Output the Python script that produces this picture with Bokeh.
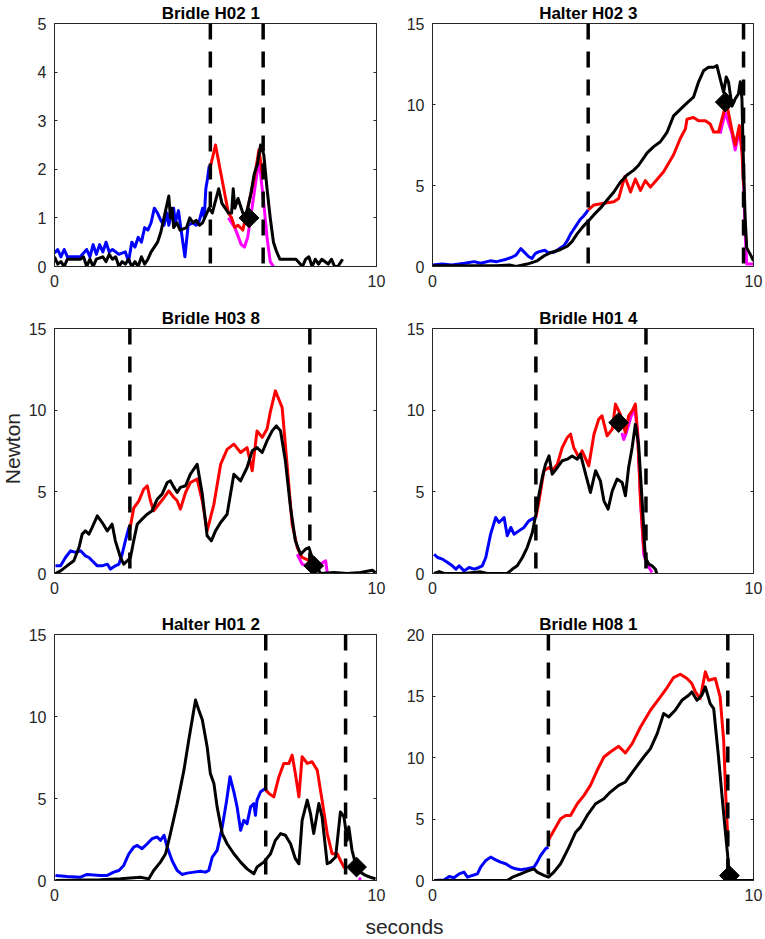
import math
from bokeh.plotting import figure
from bokeh.models import Range1d, FixedTicker, LinearAxis, Label
from bokeh.layouts import column, row
from bokeh.embed import file_html
from bokeh.resources import INLINE

# ---------------- data ----------------
titles = ["Bridle  H02  1", "Halter  H02  3", "Bridle  H03  8",
          "Bridle  H01  4", "Halter  H01  2", "Bridle  H08  1"]
y_label = "Newton"
x_label = "seconds"
y_max = [5, 15, 15, 15, 15, 20]
y_ticks = [[0, 1, 2, 3, 4, 5], [0, 5, 10, 15], [0, 5, 10, 15],
           [0, 5, 10, 15], [0, 5, 10, 15], [0, 5, 10, 15, 20]]
x_ticks = [0, 10]
phase_start = [4.84, 4.85, 2.34, 3.22, 6.56, 3.61]
phase_end = [6.48, 9.69, 7.93, 6.65, 9.04, 9.20]
marker_t = [6.04, 9.12, 8.05, 5.80, 9.38, 9.25]
marker_f = [1.00, 10.15, 0.47, 9.24, 0.82, 0.40]

# panel 1  Bridle H02 1
p1_blue = [(0.0,0.28),(0.1,0.35),(0.2,0.2),(0.3,0.35),(0.4,0.2),(0.6,0.2),(0.8,0.2),(1.0,0.35),
           (1.1,0.2),(1.2,0.45),(1.3,0.25),(1.4,0.45),(1.5,0.3),(1.6,0.5),(1.7,0.3),(1.8,0.35),
           (2.0,0.25),(2.2,0.3),(2.3,0.1),(2.4,0.5),(2.5,0.4),(2.6,0.6),(2.7,0.5),(2.8,0.8),
           (2.9,0.75),(3.0,0.9),(3.1,1.2),(3.2,1.1),(3.3,0.95),(3.4,0.85),(3.5,1.1),(3.55,0.85),
           (3.6,1.0),(3.7,1.2),(3.75,0.9),(3.85,1.15),(3.9,0.9),(4.05,0.2),(4.15,0.85),(4.3,0.9),
           (4.4,0.85),(4.5,0.95),(4.6,1.2),(4.65,1.0),(4.7,1.6),(4.75,1.8),(4.8,2.05),(4.84,2.05)]
p1_red = [(4.84,2.05),(5.0,2.5),(5.2,1.8),(5.4,1.1),(5.5,1.0),(5.6,0.8),(5.7,0.85),(5.85,0.75),
          (6.0,1.2),(6.2,1.8),(6.35,2.4),(6.48,1.8)]
p1_magenta = [(5.4,1.0),(5.6,0.8),(5.8,0.45),(5.9,0.4),(6.0,0.6),(6.2,1.5),(6.35,2.2),(6.5,1.3),
              (6.6,0.6),(6.7,0.1),(6.8,0.0)]
p1_black = [(0.0,0.2),(0.1,0.05),(0.2,0.1),(0.3,0.0),(0.4,0.15),(0.6,0.15),(0.8,0.15),(0.9,0.2),
            (1.0,0.0),(1.1,0.15),(1.2,0.0),(1.3,0.15),(1.5,0.2),(1.6,0.1),(1.7,0.25),(1.8,0.15),
            (1.9,0.2),(2.0,0.0),(2.1,0.1),(2.2,0.05),(2.3,0.15),(2.4,0.0),(2.5,0.1),(2.6,0.0),
            (2.7,0.2),(2.8,0.05),(2.9,0.15),(3.0,0.3),(3.1,0.4),(3.2,0.5),(3.3,0.7),(3.4,1.0),
            (3.5,1.3),(3.55,1.45),(3.6,1.0),(3.65,1.2),(3.7,0.8),(3.8,0.9),(3.9,0.75),(4.1,0.8),
            (4.2,1.0),(4.3,0.9),(4.4,0.95),(4.5,0.85),(4.6,0.9),(4.7,1.05),(4.8,1.2),(4.9,1.1),
            (5.0,1.35),(5.1,1.6),(5.2,1.3),(5.3,1.2),(5.4,1.1),(5.5,1.1),(5.55,1.6),(5.6,1.2),
            (5.7,1.4),(5.8,1.2),(5.9,1.0),(6.0,1.2),(6.1,1.5),(6.2,1.9),(6.3,2.1),(6.4,2.5),
            (6.5,2.3),(6.6,1.6),(6.7,1.0),(6.8,0.5),(6.9,0.3),(7.0,0.15),(7.1,0.15),(7.5,0.15),
            (7.7,0.0),(7.8,0.15),(7.9,0.2),(8.0,0.0),(8.1,0.15),(8.2,0.05),(8.3,0.15),(8.5,0.05),
            (8.6,0.15),(8.7,0.0),(8.8,0.0),(8.9,0.1),(8.95,0.15)]

# panel 2  Halter H02 3
p2_blue = [(0.0,0.1),(0.3,0.15),(0.6,0.1),(1.0,0.2),(1.3,0.3),(1.5,0.2),(1.8,0.35),(2.0,0.3),
           (2.3,0.45),(2.5,0.6),(2.6,0.7),(2.75,1.1),(2.85,0.9),(3.0,0.6),(3.1,0.5),(3.2,0.8),
           (3.3,0.9),(3.5,1.0),(3.6,0.85),(3.8,0.9),(3.95,1.1),(4.1,1.3),(4.2,1.6),(4.3,2.0),
           (4.4,2.3),(4.5,2.6),(4.6,2.9),(4.7,3.1),(4.8,3.35),(4.85,3.5)]
p2_red = [(4.85,3.5),(5.03,3.8),(5.34,3.9),(5.65,4.0),(5.8,4.2),(5.91,5.0),(5.99,5.55),(6.17,4.6),
          (6.32,5.4),(6.48,4.7),(6.63,5.3),(6.79,4.9),(7.2,5.85),(7.51,6.9),(7.72,7.9),(7.88,8.5),
          (7.93,9.1),(8.13,9.2),(8.29,9.0),(8.5,9.0),(8.65,8.8),(8.76,8.3),(8.91,8.3),(9.07,9.5),
          (9.17,10.0),(9.33,8.4),(9.43,7.5),(9.56,8.7),(9.64,7.1),(9.69,5.0)]
p2_magenta = [(8.96,8.2),(9.12,9.5),(9.33,8.2),(9.43,7.2),(9.56,8.4),(9.67,6.7),(9.74,2.0),
              (9.79,0.15),(10.0,0.15)]
p2_black = [(0.0,0.05),(1.0,0.05),(2.0,0.05),(2.4,0.1),(2.6,0.0),(2.95,0.15),(3.26,0.35),
            (3.47,0.65),(3.68,0.85),(3.99,1.05),(4.2,1.25),(4.35,1.55),(4.5,2.0),(4.66,2.4),
            (4.85,2.8),(5.03,3.2),(5.23,3.6),(5.44,4.1),(5.65,4.6),(5.85,5.2),(6.06,5.65),
            (6.27,5.95),(6.42,6.25),(6.58,6.7),(6.68,7.0),(6.89,7.4),(7.1,7.7),(7.31,8.3),
            (7.51,9.3),(7.72,9.7),(7.93,10.1),(8.13,10.45),(8.29,11.4),(8.45,12.1),(8.6,12.3),
            (8.76,12.3),(8.86,12.4),(8.96,11.6),(9.07,10.75),(9.15,11.7),(9.22,11.4),(9.33,9.9),
            (9.43,10.35),(9.53,10.65),(9.59,11.4),(9.64,10.35),(9.69,6.1),(9.74,3.0),(9.79,1.15),
            (9.9,0.75),(10.0,0.35)]

# panel 3  Bridle H03 8
p3_blue = [(0.03,0.47),(0.19,0.47),(0.34,0.98),(0.5,1.39),(0.65,1.29),(0.81,1.39),(0.96,1.08),
           (1.07,0.98),(1.17,0.78),(1.33,0.47),(1.48,0.47),(1.64,0.57),(1.74,0.27),(1.89,0.47),
           (2.0,0.57),(2.1,1.18),(2.2,2.0),(2.31,2.8),(2.34,2.7)]
p3_red = [(2.34,2.7),(2.46,4.0),(2.62,4.45),(2.77,5.16),(2.88,5.37),(2.98,4.45),(3.08,3.84),
          (3.24,4.24),(3.4,4.65),(3.55,5.06),(3.71,4.65),(3.81,4.45),(3.91,3.94),(4.07,4.96),
          (4.22,5.57),(4.43,5.78),(4.59,4.45),(4.74,2.61),(4.95,4.24),(5.16,6.69),(5.36,7.6),
          (5.57,7.92),(5.78,7.41),(5.98,7.71),(6.14,6.29),(6.29,8.73),(6.45,8.33),(6.6,8.84),
          (6.71,9.96),(6.86,11.18),(7.07,10.16),(7.23,6.49),(7.38,3.02),(7.54,1.59),(7.69,0.98),
          (7.93,0.78)]
p3_magenta = [(7.54,1.18),(7.69,0.57),(7.85,0.45),(8.1,0.5),(8.26,0.57),(8.42,0.78),(8.47,0.05)]
p3_black = [(0.03,0.0),(0.19,0.16),(0.39,0.47),(0.6,0.78),(0.76,1.59),(0.86,2.41),(0.96,2.61),
            (1.07,2.41),(1.17,2.82),(1.33,3.53),(1.48,3.12),(1.64,2.61),(1.79,3.02),(1.89,2.0),
            (2.05,0.98),(2.15,0.57),(2.26,0.78),(2.36,0.98),(2.46,2.0),(2.57,3.02),(2.72,3.33),
            (2.88,3.63),(3.03,3.84),(3.19,4.55),(3.34,4.86),(3.5,5.57),(3.6,5.67),(3.71,5.27),
            (3.81,4.96),(3.91,5.27),(4.07,5.37),(4.22,6.08),(4.43,6.69),(4.59,4.86),(4.74,2.31),
            (4.87,2.0),(5.0,2.61),(5.16,3.12),(5.36,3.63),(5.57,6.08),(5.78,5.67),(5.98,6.49),
            (6.14,7.51),(6.29,7.71),(6.45,7.41),(6.6,8.12),(6.76,8.73),(6.89,9.04),(7.02,8.73),
            (7.17,6.9),(7.33,4.04),(7.48,2.0),(7.64,1.18),(7.8,1.49),(7.9,1.59),(8.0,0.98),
            (8.16,0.37),(8.26,0.0),(8.67,0.06),(9.09,0.0),(9.5,0.06),(9.87,0.2),(9.97,0.05)]

# panel 4  Bridle H01 4
p4_blue = [(0.05,1.18),(0.16,0.98),(0.31,0.88),(0.47,0.67),(0.62,0.47),(0.73,0.27),(0.83,0.47),
           (0.98,0.16),(1.14,0.37),(1.3,0.27),(1.45,0.37),(1.55,0.47),(1.66,0.98),(1.81,2.41),
           (1.97,3.43),(2.07,3.12),(2.23,3.43),(2.33,2.31),(2.44,2.82),(2.54,2.41),(2.69,2.61),
           (2.85,2.82),(3.0,3.22),(3.16,3.39),(3.22,3.43)]
p4_red = [(3.22,3.43),(3.32,4.45),(3.47,6.29),(3.63,6.49),(3.73,6.29),(3.89,6.69),(4.04,7.71),
          (4.2,8.33),(4.3,8.53),(4.4,7.71),(4.56,7.1),(4.66,7.51),(4.87,6.59),(5.03,8.53),
          (5.18,9.45),(5.28,9.65),(5.44,8.43),(5.6,8.84),(5.7,10.37),(5.85,9.76),(6.01,8.63),
          (6.11,9.65),(6.22,9.96),(6.32,10.37),(6.39,8.53),(6.48,4.45),(6.58,1.59),(6.65,0.98)]
p4_magenta = [(5.9,8.6),(5.96,8.2),(6.05,8.7),(6.2,9.7),(6.3,10.0),(6.39,8.7),(6.48,4.6),
              (6.58,1.18),(6.68,0.57),(6.84,0.06)]
p4_black = [(0.05,0.0),(0.21,0.12),(0.36,0.0),(0.98,0.0),(1.5,0.1),(1.71,0.0),(2.33,0.0),
            (2.49,0.27),(2.64,0.47),(2.8,0.98),(2.95,1.59),(3.11,2.51),(3.22,3.63),(3.32,4.86),
            (3.42,5.88),(3.52,6.69),(3.63,7.2),(3.73,6.08),(3.89,6.49),(4.04,6.9),(4.2,7.0),
            (4.35,7.2),(4.51,7.0),(4.61,7.31),(4.77,6.08),(4.92,4.96),(5.08,6.29),(5.23,5.67),
            (5.34,4.45),(5.47,3.94),(5.6,5.06),(5.75,5.78),(5.91,5.57),(6.01,4.76),(6.11,6.49),
            (6.22,7.71),(6.32,9.14),(6.42,7.92),(6.53,4.45),(6.63,0.98),(6.74,0.57),(6.84,0.47),
            (6.94,0.27),(6.99,0.0)]

# panel 5  Halter H01 2
p5_blue = [(0.03,0.31),(0.39,0.24),(0.81,0.2),(1.01,0.37),(1.43,0.31),(1.64,0.31),(1.84,0.51),
           (2.0,0.61),(2.15,0.92),(2.31,1.63),(2.46,2.04),(2.57,2.14),(2.72,1.94),(2.88,2.24),
           (3.03,2.55),(3.19,2.65),(3.29,2.45),(3.4,2.76),(3.5,2.04),(3.65,1.22),(3.81,0.61),
           (3.96,0.37),(4.12,0.45),(4.33,0.51),(4.53,0.57),(4.69,0.51),(4.79,0.61),(4.9,1.43),
           (5.05,1.84),(5.21,3.27),(5.34,4.8),(5.45,6.33),(5.57,5.41),(5.67,4.49),(5.78,3.06),
           (5.88,3.67),(5.98,3.47),(6.09,4.49),(6.19,4.69),(6.24,3.98),(6.29,4.9),(6.4,5.41),
           (6.55,5.61)]
p5_red = [(6.56,5.51),(6.66,5.31),(6.81,5.1),(6.97,6.33),(7.12,7.14),(7.28,7.14),(7.38,7.65),
          (7.48,6.53),(7.59,5.1),(7.69,7.55),(7.85,7.14),(8.0,7.24),(8.16,6.73),(8.31,4.9),
          (8.47,2.86),(8.62,1.63),(8.78,1.63),(8.88,1.22),(8.99,0.82),(9.04,0.71)]
p5_magenta = [(9.45,0.15),(9.52,0.05)]
p5_black = [(0.03,0.0),(1.43,0.04),(2.05,0.1),(2.67,0.2),(2.93,0.1),(3.08,0.61),(3.29,1.12),
            (3.45,1.63),(3.6,2.86),(3.81,4.69),(4.02,6.73),(4.17,8.57),(4.31,10.2),(4.38,11.0),
            (4.48,10.4),(4.59,9.8),(4.74,8.16),(4.84,6.53),(4.95,5.92),(5.05,4.49),(5.21,2.86),
            (5.36,2.24),(5.57,1.63),(5.78,1.12),(5.98,0.71),(6.19,0.41),(6.29,0.82),(6.5,1.12),
            (6.71,1.63),(6.86,2.45),(7.02,2.86),(7.17,2.76),(7.33,2.24),(7.48,1.33),(7.59,1.02),
            (7.69,3.67),(7.85,4.9),(7.95,4.08),(8.05,2.86),(8.21,4.69),(8.31,3.88),(8.47,1.02),
            (8.57,1.12),(8.73,1.43),(8.88,4.18),(8.99,3.88),(9.09,2.45),(9.14,3.27),(9.24,1.84),
            (9.35,1.02),(9.5,0.51),(9.66,0.31),(9.81,0.2),(9.97,0.1)]

# panel 6  Bridle H08 1
p6_blue = [(0.05,0.0),(0.36,0.05),(0.52,0.33),(0.67,0.22),(0.83,0.54),(0.98,0.68),(1.09,0.27),
           (1.24,0.41),(1.4,0.54),(1.5,1.09),(1.66,1.63),(1.81,1.9),(1.97,1.68),(2.12,1.49),
           (2.28,1.36),(2.44,1.09),(2.59,0.95),(2.75,0.87),(2.95,0.95),(3.16,1.09),(3.26,1.49),
           (3.37,2.04),(3.52,2.58),(3.61,2.71)]
p6_red = [(3.61,3.26),(3.78,4.07),(3.99,5.02),(4.15,5.29),(4.3,5.29),(4.51,6.24),(4.72,6.92),
          (4.92,7.73),(5.13,8.96),(5.34,10.04),(5.54,10.45),(5.8,10.91),(6.01,10.37),(6.22,11.13),
          (6.48,12.48),(6.79,13.84),(7.1,14.93),(7.31,15.69),(7.51,16.5),(7.72,16.77),(7.93,16.42),
          (8.08,16.01),(8.19,15.33),(8.34,14.79),(8.5,16.96),(8.6,16.28),(8.81,16.42),(8.96,14.93),
          (9.07,11.4),(9.15,5.97),(9.2,3.53)]
p6_magenta = []
p6_black = [(0.05,0.0),(2.33,0.0),(2.49,0.27),(2.75,0.54),(2.95,0.76),(3.16,0.95),(3.26,0.68),
            (3.47,0.41),(3.61,0.27),(3.78,0.68),(3.99,1.36),(4.25,2.71),(4.46,3.93),(4.61,4.34),
            (4.82,5.29),(5.08,6.24),(5.34,6.65),(5.54,7.19),(5.8,7.73),(6.01,8.01),(6.27,8.96),
            (6.58,10.04),(6.79,10.72),(7.0,11.94),(7.2,13.57),(7.36,13.3),(7.56,13.84),(7.77,14.65),
            (7.98,15.06),(8.08,15.33),(8.24,14.65),(8.39,15.06),(8.5,15.74),(8.65,14.38),(8.76,13.98),
            (8.91,10.04),(9.07,5.43),(9.2,1.9),(9.25,0.14),(9.38,0.0),(10.0,0.0)]

blue_series = [p1_blue, p2_blue, p3_blue, p4_blue, p5_blue, p6_blue]
red_series = [p1_red, p2_red, p3_red, p4_red, p5_red, p6_red]
magenta_series = [p1_magenta, p2_magenta, p3_magenta, p4_magenta, p5_magenta, p6_magenta]
black_series = [p1_black, p2_black, p3_black, p4_black, p5_black, p6_black]

# ---------------- styling ----------------
AX = "#262626"
FONT = "Liberation Sans"


def split(pairs):
    return [a for a, _ in pairs], [b for _, b in pairs]


def make_panel(i, width, height, bl, br, bt, bb):
    p = figure(width=width, height=height, x_range=Range1d(0, 10), y_range=Range1d(0, y_max[i]),
               output_backend="svg", toolbar_location=None,
               min_border_left=bl, min_border_right=br, min_border_top=bt, min_border_bottom=bb,
               background_fill_color="white", border_fill_color="white")
    p.grid.visible = False
    p.outline_line_color = AX
    p.outline_line_width = 1
    p.title.text = titles[i]
    p.title.align = "center"
    p.title.text_font = FONT
    p.title.text_font_style = "bold"
    p.title.text_font_size = "17px"
    p.title.text_color = "black"
    p.title.standoff = 1
    xa = p.xaxis[0]
    ya = p.yaxis[0]
    xa.ticker = FixedTicker(ticks=x_ticks)
    ya.ticker = FixedTicker(ticks=y_ticks[i])
    ra = LinearAxis(ticker=FixedTicker(ticks=y_ticks[i]),
                    major_label_overrides={t: "" for t in y_ticks[i]},
                    major_label_text_font_size="0px", major_label_standoff=0)
    p.add_layout(ra, "right")
    for ax in (xa, ya, ra):
        ax.major_tick_in = 3
        ax.major_tick_out = 0
        ax.minor_tick_line_color = None
        ax.axis_line_color = AX
        ax.major_tick_line_color = AX
    for ax in (xa, ya):
        ax.major_label_text_font = FONT
        ax.major_label_text_font_size = "16px"
        ax.major_label_text_color = AX
        ax.major_label_standoff = 8

    ymax = y_max[i]
    mt, mf = split(magenta_series[i])
    if mt:
        p.line(mt, mf, line_color="#FF00FF", line_width=3, line_join="round")
    bt_, bf_ = split(blue_series[i])
    p.line(bt_, bf_, line_color="#0000FF", line_width=3, line_join="round")
    rt, rf = split(red_series[i])
    p.line(rt, rf, line_color="#FF0000", line_width=3, line_join="round")
    kt, kf = split(black_series[i])
    p.line(kt, kf, line_color="black", line_width=3, line_join="round")
    for tx in (phase_start[i], phase_end[i]):
        p.line([tx, tx], [ymax, 0], line_color="black", line_width=3.5, line_dash="16 12")
    p.scatter([marker_t[i]], [marker_f[i]], marker="square", angle=math.pi / 4, size=14,
              fill_color="black", line_color="black")
    return p


def text_strip(width, height, text, x, y, angle=0.0):
    s = figure(width=width, height=height, x_range=Range1d(0, width), y_range=Range1d(0, height),
               output_backend="svg", toolbar_location=None, min_border=0,
               x_axis_location=None, y_axis_location=None,
               background_fill_color="white", border_fill_color="white")
    s.grid.visible = False
    s.outline_line_color = None
    s.add_layout(Label(x=x, y=y, text=text, angle=angle, text_align="center",
                       text_baseline="middle", text_font=FONT, text_font_size="21px",
                       text_color=AX))
    return s


LEFT_W = 24  # width of the strip carrying the y label in the middle row

# row 1
f1 = make_panel(0, 392, 300, 54, 16, 23, 34)
f2 = make_panel(1, 373, 300, 40, 12, 23, 34)
# row 2 (y label strip + two panels)
fy = text_strip(LEFT_W, 306, y_label, 12, 306 - 150, angle=math.pi / 2)
f3 = make_panel(2, 392 - LEFT_W, 306, 54 - LEFT_W, 16, 28, 33)
f4 = make_panel(3, 373, 306, 40, 12, 28, 33)
# row 3
f5 = make_panel(4, 392, 300, 54, 16, 28, 26)
f6 = make_panel(5, 373, 300, 40, 12, 28, 26)
# x label strip
fx = text_strip(765, 33, x_label, 404, 13)

layout = column(row(f1, f2, spacing=0), row(fy, f3, f4, spacing=0), row(f5, f6, spacing=0),
                fx, spacing=0)

open("out.html", "w").write(file_html(layout, INLINE))
